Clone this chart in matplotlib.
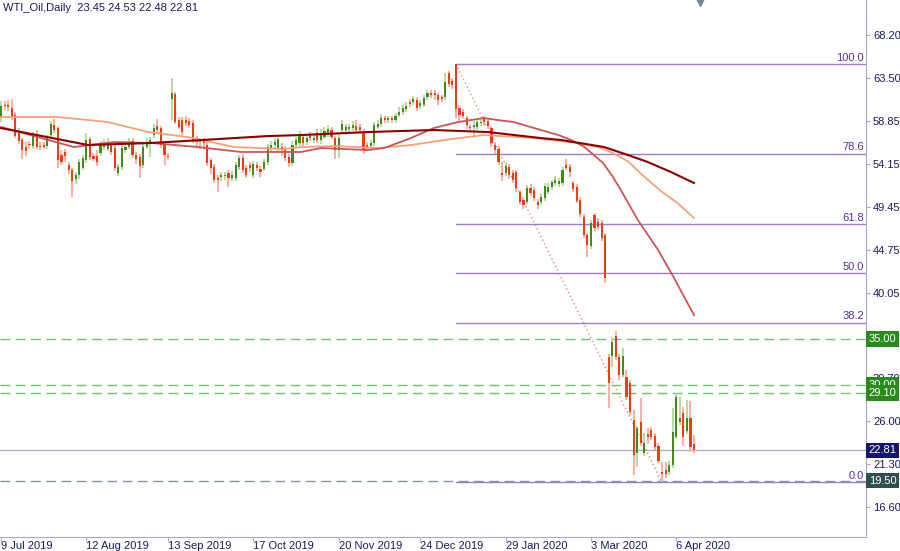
import numpy as np
import matplotlib.pyplot as plt
import matplotlib.transforms as mtransforms

plt.rcParams['font.family'] = ['Liberation Sans', 'DejaVu Sans']

# --- data ---
opens = [59.1, 60.6, 60.6, 60.2, 59.5, 57.6, 56.7, 56.0, 56.3, 56.1, 57.3, 56.1, 56.2, 56.1, 57.3, 58.4, 58.0, 55.1, 55.4, 54.0,
         53.4, 52.5, 52.9, 53.7, 54.5, 56.8, 55.0, 55.0, 55.3, 56.0, 55.8, 56.2, 55.9, 53.1, 53.8, 55.6, 56.0, 56.6, 55.1, 54.9,
         54.0, 56.0, 56.4, 57.3, 58.3, 58.0, 56.2, 55.0, 61.2, 61.8, 58.9, 58.9, 58.9, 58.8, 58.6, 56.9, 56.7, 56.7, 56.2, 54.5,
         53.8, 52.6, 52.7, 52.8, 53.1, 52.6, 52.6, 53.8, 54.8, 53.7, 54.0, 52.9, 54.0, 53.6, 53.6, 54.3, 55.7, 56.2, 55.8, 56.0,
         55.8, 54.9, 54.2, 56.2, 56.4, 57.1, 56.5, 57.3, 56.7, 57.5, 56.7, 57.1, 57.4, 57.8, 56.9, 55.6, 57.8, 57.8, 57.9, 58.0,
         58.3, 58.2, 57.6, 56.2, 56.1, 56.4, 58.2, 58.5, 59.1, 58.9, 59.1, 58.9, 59.5, 59.8, 60.1, 60.9, 60.9, 61.1, 60.4, 60.6,
         61.4, 61.9, 61.9, 61.6, 61.4, 61.4, 64.0, 63.2, 65.0, 60.2, 59.8, 59.1, 58.2, 58.1, 58.1, 58.6, 59.1, 58.8, 58.0, 56.2,
         55.8, 53.1, 53.1, 53.8, 53.1, 53.2, 51.0, 50.2, 50.0, 51.5, 51.3, 50.0, 49.9, 50.4, 51.1, 51.6, 52.0, 51.9, 52.0, 54.0,
         53.8, 52.0, 51.6, 50.2, 48.3, 46.3, 45.1, 48.5, 47.8, 47.7, 46.3, 33.0, 33.1, 35.3, 33.0, 31.1, 30.8, 30.2, 26.1, 22.5,
         25.9, 22.5, 24.6, 25.0, 24.4, 23.3, 20.4, 20.7, 20.4, 21.2, 24.3, 25.9, 26.9, 24.9, 26.3, 23.45]
highs = [61.0, 61.0, 61.1, 61.2, 59.8, 58.0, 57.0, 56.5, 56.6, 57.6, 57.8, 56.5, 56.5, 57.3, 58.8, 59.0, 58.3, 55.6, 55.8, 54.3,
         53.7, 53.2, 54.6, 55.1, 57.5, 57.1, 55.3, 55.6, 56.6, 56.8, 56.9, 56.5, 56.2, 54.1, 56.2, 56.4, 57.0, 56.9, 55.4, 55.2,
         56.3, 57.0, 57.1, 58.5, 59.0, 58.3, 56.5, 55.3, 63.5, 62.0, 59.2, 59.2, 59.3, 59.1, 58.9, 57.2, 57.0, 57.0, 56.5, 54.8,
         54.1, 52.9, 53.2, 53.2, 53.4, 53.3, 54.3, 55.1, 55.2, 54.0, 54.3, 54.4, 54.3, 53.9, 54.7, 56.3, 56.6, 57.0, 57.1, 56.4,
         56.1, 55.2, 56.6, 57.1, 57.7, 57.4, 57.4, 57.6, 57.4, 57.9, 57.9, 58.1, 58.4, 58.1, 57.2, 57.3, 58.9, 58.5, 58.5, 58.8,
         58.9, 58.5, 57.9, 56.5, 56.7, 58.7, 58.9, 59.6, 59.4, 59.4, 59.4, 59.7, 60.3, 60.6, 60.9, 61.2, 61.5, 61.4, 61.1, 61.6,
         62.2, 62.2, 62.2, 61.9, 61.7, 64.1, 64.3, 63.5, 65.04, 60.6, 60.1, 59.4, 58.5, 58.8, 59.0, 59.0, 59.4, 59.1, 58.3, 56.5,
         56.1, 54.3, 54.3, 54.1, 53.4, 53.5, 51.3, 50.5, 51.8, 51.9, 51.6, 50.3, 50.8, 52.0, 52.0, 52.4, 52.8, 52.6, 53.8, 54.6,
         54.1, 52.3, 51.9, 50.5, 48.6, 46.6, 48.0, 48.8, 48.2, 48.0, 46.6, 33.3, 35.2, 35.9, 33.3, 34.0, 31.6, 30.5, 27.2, 25.5,
         28.5, 24.7, 25.3, 25.4, 24.7, 23.6, 21.5, 21.5, 21.7, 27.4, 29.1, 28.6, 27.6, 28.3, 28.2, 24.53]
lows = [58.7, 60.0, 59.9, 58.9, 57.0, 56.3, 54.6, 55.0, 55.8, 55.8, 55.7, 55.6, 55.7, 55.8, 57.0, 57.5, 53.7, 54.0, 54.3, 53.0,
        50.5, 51.9, 52.5, 53.4, 54.2, 54.5, 54.4, 53.9, 55.0, 55.6, 55.5, 55.1, 53.3, 52.8, 53.5, 55.3, 55.7, 54.8, 54.1, 52.6,
        53.7, 55.7, 54.9, 57.0, 57.5, 55.9, 54.0, 54.5, 58.9, 58.5, 57.9, 57.3, 58.3, 58.0, 56.4, 56.1, 55.7, 55.6, 53.9, 53.0,
        52.0, 51.1, 52.3, 52.4, 51.6, 52.2, 52.3, 53.5, 53.1, 52.6, 53.2, 52.6, 53.3, 52.7, 53.3, 54.0, 55.4, 55.9, 55.5, 55.0,
        54.4, 53.8, 53.9, 55.9, 56.0, 56.0, 56.2, 56.6, 56.4, 56.4, 56.3, 56.8, 57.1, 56.8, 54.6, 54.8, 57.5, 57.3, 57.5, 57.7,
        57.5, 57.4, 55.2, 55.5, 55.8, 56.1, 57.9, 58.2, 58.6, 58.6, 58.6, 58.6, 59.2, 59.5, 59.8, 60.3, 60.6, 59.9, 60.1, 60.3,
        61.1, 61.3, 61.1, 60.5, 60.9, 61.1, 62.5, 62.3, 59.1, 58.7, 59.0, 57.9, 57.6, 56.9, 57.8, 58.3, 58.3, 57.9, 56.0, 55.2,
        54.0, 52.3, 52.8, 52.5, 52.0, 51.1, 49.6, 49.2, 49.7, 50.6, 50.1, 49.2, 49.6, 50.1, 50.8, 51.3, 51.7, 51.6, 51.7, 53.4,
        52.7, 51.1, 49.8, 48.3, 46.0, 43.9, 44.8, 46.8, 46.9, 45.7, 41.1, 27.4, 31.9, 32.7, 30.5, 30.8, 28.3, 26.7, 20.1, 21.0,
        23.3, 22.2, 23.5, 23.9, 22.9, 21.4, 19.3, 19.8, 20.1, 20.9, 24.0, 25.6, 23.3, 24.6, 22.9, 22.48]
closes = [60.4, 60.4, 60.3, 59.2, 57.2, 56.6, 55.6, 55.5, 56.2, 57.3, 56.0, 56.0, 56.0, 57.0, 58.5, 57.8, 54.5, 54.3, 55.0, 53.4,
          52.3, 52.9, 54.3, 54.8, 56.7, 54.9, 54.7, 54.3, 56.2, 56.4, 56.5, 55.4, 53.7, 53.8, 55.9, 56.0, 56.5, 55.1, 54.6, 53.9,
          56.0, 56.5, 56.7, 58.0, 57.8, 56.2, 55.1, 54.9, 61.9, 58.7, 58.2, 57.6, 58.6, 58.4, 56.7, 56.5, 56.5, 56.4, 54.2, 53.7,
          52.4, 52.4, 52.9, 52.9, 52.6, 52.9, 54.0, 54.8, 53.4, 52.9, 53.7, 54.1, 53.7, 53.2, 54.3, 56.0, 56.2, 56.5, 56.8, 55.7,
          54.8, 54.2, 56.2, 56.7, 57.3, 56.4, 57.0, 56.9, 57.0, 56.7, 57.5, 57.7, 57.9, 57.1, 55.6, 57.0, 58.5, 58.1, 58.1, 58.4,
          57.8, 57.8, 55.6, 56.0, 56.4, 58.4, 58.5, 59.1, 58.9, 59.1, 58.9, 59.3, 59.8, 60.2, 60.4, 60.7, 61.2, 60.2, 60.8, 61.3,
          61.9, 61.7, 61.6, 61.1, 61.2, 63.1, 62.9, 62.7, 60.1, 59.5, 59.4, 58.4, 58.0, 58.4, 58.7, 58.7, 58.7, 58.3, 56.4, 55.6,
          54.3, 52.9, 53.9, 52.9, 52.4, 51.5, 50.0, 49.6, 51.5, 50.9, 50.4, 49.6, 50.5, 51.7, 51.6, 52.1, 52.4, 52.3, 53.5, 53.7,
          53.2, 51.4, 50.1, 48.6, 46.3, 45.2, 47.7, 47.1, 47.2, 46.0, 41.6, 30.2, 34.6, 33.0, 31.0, 33.1, 28.6, 27.0, 22.3, 25.2,
          23.6, 23.6, 24.3, 24.3, 23.2, 21.7, 20.2, 20.2, 21.2, 24.8, 28.6, 26.3, 24.3, 26.3, 23.2, 22.81]

date_ticks = [0, 24, 47, 71, 95, 118, 142, 166, 190]
date_labels = ['9 Jul 2019', '12 Aug 2019', '13 Sep 2019', '17 Oct 2019', '20 Nov 2019',
               '24 Dec 2019', '29 Jan 2020', '3 Mar 2020', '6 Apr 2020']

# moving averages (bar index, value)
ma_slow_x = [0, 24.5, 42, 56.3, 75.1, 84.4, 103.3, 121.8, 137, 151.9, 157.6, 169.7, 176.4, 182, 188.5, 195]
ma_slow_y = [58.03, 56.18, 56.40, 56.72, 57.16, 57.27, 57.60, 57.82, 57.60, 56.94, 56.73, 55.96, 55.09, 54.32, 53.23, 52.03]
ma_mid_x = [0, 16, 30, 41.4, 52.6, 65.6, 79.6, 84.4, 93.7, 106.1, 115.4, 126.6, 135.9, 150, 162.4, 168, 172, 176.4, 180.9,
            185.7, 190.5, 195]
ma_mid_y = [59.24, 59.24, 58.69, 57.60, 57.05, 55.96, 55.74, 55.96, 56.07, 55.85, 56.18, 56.83, 57.27, 56.94, 56.39, 55.95,
            55.35, 54.40, 52.75, 51.15, 49.80, 48.20]
ma_fast_x = [0, 20.5, 31.8, 42.2, 55.4, 67.5, 84.4, 90, 103.3, 107.8, 115.4, 121.8, 128.6, 135.9, 139.8, 144.3, 151.9, 157,
             160.4, 164, 166.5, 169.4, 172, 174.4, 179.2, 184.9, 189.4, 192.7, 195]
ma_fast_y = [58.15, 55.96, 56.51, 56.40, 55.96, 55.42, 55.42, 55.85, 55.63, 55.85, 56.95, 58.04, 58.69, 59.13, 58.91, 58.69,
             57.82, 57.25, 56.73, 56.00, 55.20, 54.21, 52.80, 51.26, 47.98, 44.71, 41.64, 39.24, 37.60]

fib_levels = [0.0, 38.2, 50.0, 61.8, 78.6, 100.0]
fib_high, fib_low = 65.04, 19.30
fib_high_idx, fib_low_idx = 128, 186

green_levels = [35.00, 30.00, 29.10]
support_level = 19.50
last_price = 22.81
yticks = [68.20, 63.50, 58.85, 54.15, 49.45, 44.75, 40.05, 35.40, 30.70, 26.00, 21.30, 16.60]

# --- plot ---
opens, highs, lows, closes = map(np.array, (opens, highs, lows, closes))
idx = np.arange(len(closes))
up = closes >= opens

fig = plt.figure(figsize=(9, 5.51), dpi=100)
ax = fig.add_axes([0, 14 / 551, 866 / 900, 537 / 551])
xr = 243.4
ax.set_xlim(-0.3, xr)
ax.set_ylim(13.34, 72.03)

navy = '#1b1b5e'
spine_c = '#a8a8d0'

# levels
for lv in green_levels:
    ax.axhline(lv, color='#74c274', lw=1, ls=(0, (7, 4)), zorder=1)
ax.axhline(support_level, color='#8494a4', lw=1, ls=(0, (7, 4)), zorder=1)
ax.axhline(last_price, color='#aab3c2', lw=1, zorder=1)

# fibonacci
for lvl in fib_levels:
    p = fib_low + (fib_high - fib_low) * lvl / 100
    ax.plot([fib_high_idx, xr], [p, p], color='#9a7fcc', lw=1, zorder=1)
    ax.text(xr - 0.6, p + 0.12, f'{lvl:.1f}', ha='right', va='bottom', color='#5e2f96', fontsize=8)
ax.plot([fib_high_idx, fib_low_idx], [fib_high, fib_low], ls=(0, (1, 2)), color='#f08080', lw=1, zorder=1)

# candles
ax.vlines(idx[up], lows[up], highs[up], color='#bcd9a8', lw=1.5, zorder=2)
ax.vlines(idx[~up], lows[~up], highs[~up], color='#f7b4a6', lw=1.5, zorder=2)
body = np.maximum(np.abs(closes - opens), 0.1)
ax.bar(idx[up], body[up], bottom=np.minimum(opens, closes)[up], width=0.6, color='#438a1c', zorder=3)
ax.bar(idx[~up], body[~up], bottom=np.minimum(opens, closes)[~up], width=0.6, color='#f03c14', zorder=3)

# moving averages
ax.plot(ma_mid_x, ma_mid_y, color='#f5a27a', lw=1.3, zorder=4)
ax.plot(ma_fast_x, ma_fast_y, color='#cc5555', lw=1.3, zorder=4)
ax.plot(ma_slow_x, ma_slow_y, color='#8b0000', lw=1.5, zorder=4)

# axes style
for s in ('top', 'left'):
    ax.spines[s].set_visible(False)
for s in ('right', 'bottom'):
    ax.spines[s].set_color(spine_c)
ax.yaxis.tick_right()
ax.set_yticks(yticks)
ax.set_yticklabels([f'{v:.2f}' for v in yticks])
ax.set_xticks(date_ticks)
ax.set_xticklabels(date_labels, ha='left')
ax.tick_params(axis='y', colors=spine_c, labelcolor=navy, length=3, labelsize=8, pad=2)
ax.tick_params(axis='x', colors=spine_c, labelcolor=navy, length=3, labelsize=8, pad=0)

# price boxes on the right
trans = mtransforms.blended_transform_factory(ax.transAxes, ax.transData)
boxes = [(35.00, '#2a8a1e'), (30.00, '#2a8a1e'), (29.10, '#2a8a1e'), (last_price, '#15156a'), (support_level, '#2f4f4f')]
for p, c in boxes:
    ax.text(1.003, p, f'{p:.2f}', transform=trans, ha='left', va='center', color='white', fontsize=8,
            bbox=dict(boxstyle='square,pad=0.25', fc=c, ec='none'), clip_on=False, zorder=6)

ax.plot(196.7, 72.0, marker='v', color='#7a8595', ms=9, clip_on=False, zorder=5)

fig.text(0.003, 0.995, 'WTI_Oil,Daily  23.45 24.53 22.48 22.81', va='top', ha='left', color=navy, fontsize=8)

fig.savefig('out.png', dpi=100)
